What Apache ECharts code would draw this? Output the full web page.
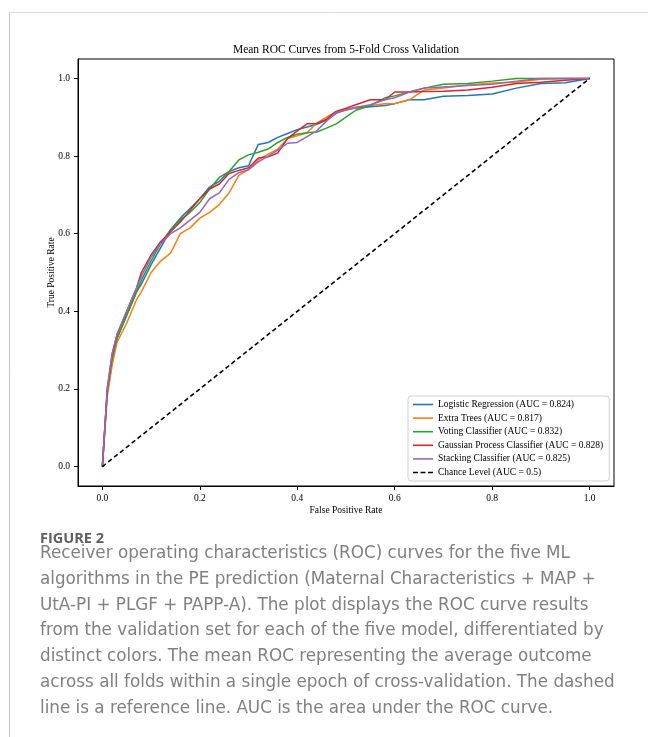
<!DOCTYPE html>
<html>
<head>
<meta charset="utf-8">
<script src="https://cdn.jsdelivr.net/npm/echarts@6/dist/echarts.min.js"></script>
<style>
html,body{margin:0;padding:0;background:#fff;}
#chart{width:648px;height:737px;}
</style>
</head>
<body>
<div id="chart"></div>
<script>
// ---- data ----
const chartTitle = 'Mean ROC Curves from 5-Fold Cross Validation';
const xName = 'False Positive Rate';
const yName = 'True Positive Rate';
const tickValues = [0, 0.2, 0.4, 0.6, 0.8, 1.0];
const seriesNames = [
  'Logistic Regression (AUC = 0.824)',
  'Extra Trees (AUC = 0.817)',
  'Voting Classifier (AUC = 0.832)',
  'Gaussian Process Classifier (AUC = 0.828)',
  'Stacking Classifier (AUC = 0.825)',
  'Chance Level (AUC = 0.5)'
];
const colors = ['#1f77b4', '#ff7f0e', '#2ca02c', '#d62728', '#9467bd', '#000000'];

const fpr = [0, 0.01, 0.02, 0.03, 0.05, 0.07, 0.08, 0.10, 0.12, 0.14, 0.16, 0.18, 0.20, 0.22, 0.24, 0.26, 0.28, 0.30,
  0.32, 0.34, 0.36, 0.38, 0.40, 0.42, 0.44, 0.46, 0.48, 0.50, 0.52, 0.55, 0.58, 0.60, 0.63, 0.66, 0.70, 0.75, 0.80,
  0.85, 0.90, 0.95, 1.0];
const tprLR = [0, 0.19, 0.27, 0.33, 0.39, 0.45, 0.47, 0.52, 0.565, 0.61, 0.64, 0.665, 0.69, 0.72, 0.735, 0.76, 0.77, 0.775,
  0.83, 0.835, 0.848, 0.858, 0.868, 0.875, 0.882, 0.893, 0.91, 0.92, 0.924, 0.927, 0.93, 0.935, 0.945, 0.945, 0.954, 0.956, 0.96,
  0.975, 0.987, 0.989, 1.0];
const tprET = [0, 0.18, 0.26, 0.32, 0.37, 0.43, 0.45, 0.50, 0.53, 0.55, 0.60, 0.615, 0.64, 0.655, 0.675, 0.705, 0.75, 0.765,
  0.79, 0.805, 0.818, 0.845, 0.852, 0.86, 0.885, 0.90, 0.915, 0.92, 0.926, 0.93, 0.935, 0.935, 0.945, 0.97, 0.975, 0.983, 0.988,
  0.99, 0.998, 1.0, 1.0];
const tprVC = [0, 0.19, 0.28, 0.33, 0.39, 0.45, 0.48, 0.53, 0.575, 0.61, 0.635, 0.655, 0.68, 0.715, 0.745, 0.76, 0.79, 0.803,
  0.81, 0.818, 0.835, 0.848, 0.856, 0.86, 0.862, 0.872, 0.883, 0.90, 0.918, 0.93, 0.95, 0.955, 0.965, 0.975, 0.985, 0.987, 0.993,
  1.0, 1.0, 1.0, 1.0];
const tprGPC = [0, 0.20, 0.29, 0.34, 0.40, 0.46, 0.50, 0.545, 0.58, 0.605, 0.63, 0.66, 0.69, 0.715, 0.728, 0.755, 0.763, 0.77,
  0.795, 0.798, 0.808, 0.845, 0.865, 0.883, 0.884, 0.895, 0.915, 0.923, 0.932, 0.945, 0.945, 0.965, 0.965, 0.966, 0.967, 0.97, 0.977,
  0.987, 0.99, 0.995, 1.0];
const tprSC = [0, 0.20, 0.29, 0.34, 0.40, 0.46, 0.49, 0.54, 0.575, 0.60, 0.615, 0.635, 0.655, 0.69, 0.705, 0.74, 0.757, 0.765,
  0.785, 0.80, 0.815, 0.833, 0.835, 0.85, 0.865, 0.89, 0.912, 0.918, 0.925, 0.932, 0.945, 0.95, 0.965, 0.975, 0.978, 0.982, 0.985,
  0.993, 1.0, 1.0, 1.0];
const chanceX = [0, 1];
const chanceY = [0, 1];

const figureLabel = 'FIGURE 2';
const captionLines = [
  'Receiver operating characteristics (ROC) curves for the five ML',
  'algorithms in the PE prediction (Maternal Characteristics + MAP +',
  'UtA-PI + PLGF + PAPP-A). The plot displays the ROC curve results',
  'from the validation set for each of the five model, differentiated by',
  'distinct colors. The mean ROC representing the average outcome',
  'across all folds within a single epoch of cross-validation. The dashed',
  'line is a reference line. AUC is the area under the ROC curve.'
];

// ---- chart ----
const serif = '"Liberation Serif", "Times New Roman", serif';
const tprs = [tprLR, tprET, tprVC, tprGPC, tprSC];
const pairs = (xs, ys) => xs.map((x, i) => [x, ys[i]]);
const solidIcon = 'path://M0,0h20v1.6h-20z';
const dashIcon = 'path://M0,0h5v1.6h-5zM7.5,0h5v1.6h-5zM15,0h5v1.6h-5z';

const series = tprs.map((t, i) => ({
  name: seriesNames[i],
  type: 'line',
  data: pairs(fpr, t),
  symbol: 'none',
  showSymbol: false,
  smooth: false,
  animation: false,
  lineStyle: { color: colors[i], width: 1.5 },
  itemStyle: { color: colors[i] },
  z: 2 + i
}));
series.push({
  name: seriesNames[5],
  type: 'line',
  data: pairs(chanceX, chanceY),
  symbol: 'none',
  showSymbol: false,
  animation: false,
  lineStyle: { color: '#000', width: 1.6, type: [4.5, 3] },
  itemStyle: { color: '#000' },
  z: 8
});

const graphics = [
  { type: 'line', shape: { x1: 9.5, y1: 12.5, x2: 648, y2: 12.5 }, style: { stroke: '#dcdcdc', lineWidth: 1 }, silent: true },
  { type: 'line', shape: { x1: 9.5, y1: 12.5, x2: 9.5, y2: 737 }, style: { stroke: '#c8c8c8', lineWidth: 1 }, silent: true },
  { type: 'text', x: 346, y: 50, style: { text: chartTitle, font: '11.5px ' + serif, fill: '#000', textAlign: 'center', textVerticalAlign: 'middle' } },
  { type: 'text', x: 40, y: 539, style: { text: figureLabel, font: 'bold 14.5px "Open Sans", Lato, sans-serif', fill: '#5f5f5f', textAlign: 'left', textVerticalAlign: 'middle' } }
];
captionLines.forEach((line, i) => {
  graphics.push({ type: 'text', x: 40, y: 554 + i * 25.7, style: { text: line, font: '16.8px "DejaVu Sans", "Open Sans", sans-serif', fill: '#808080', textAlign: 'left', textVerticalAlign: 'middle' } });
});

const axisCommon = {
  type: 'value',
  min: -0.05,
  max: 1.05,
  splitLine: { show: false },
  axisLine: { show: true, onZero: false, lineStyle: { color: '#000', width: 1 } },
  axisTick: { show: true, inside: false, length: 4, customValues: tickValues, lineStyle: { color: '#000', width: 1 } },
  axisLabel: { customValues: tickValues, formatter: v => v.toFixed(1), fontFamily: serif, fontSize: 9.5, color: '#000' },
  nameLocation: 'middle',
  nameMoveOverlap: false,
  nameTextStyle: { fontFamily: serif, fontSize: 9.5, color: '#000' }
};

const chart = echarts.init(document.getElementById('chart'), null, { renderer: 'canvas' });
chart.setOption({
  backgroundColor: '#fff',
  animation: false,
  grid: { left: 78, right: 34, top: 59, bottom: 251, show: true, borderColor: '#000', borderWidth: 1, backgroundColor: 'transparent' },
  xAxis: Object.assign({}, axisCommon, { name: xName, nameGap: 19, axisLabel: Object.assign({}, axisCommon.axisLabel, { margin: 7 }) }),
  yAxis: Object.assign({}, axisCommon, { name: yName, nameGap: 22, axisLabel: Object.assign({}, axisCommon.axisLabel, { margin: 8 }) }),
  legend: {
    orient: 'vertical',
    left: 408,
    top: 396,
    padding: [3.5, 6, 3.5, 5],
    itemWidth: 20,
    itemHeight: 10,
    itemGap: 3.6,
    backgroundColor: 'rgba(255,255,255,0.85)',
    borderColor: '#d0d0d0',
    borderWidth: 1,
    borderRadius: 3,
    data: seriesNames.map((n, i) => ({ name: n, icon: i === 5 ? dashIcon : solidIcon })),
    textStyle: { fontFamily: serif, fontSize: 9.5, color: '#000', lineHeight: 10 },
    selectedMode: false
  },
  series: series,
  graphic: graphics
});
</script>
</body>
</html>
